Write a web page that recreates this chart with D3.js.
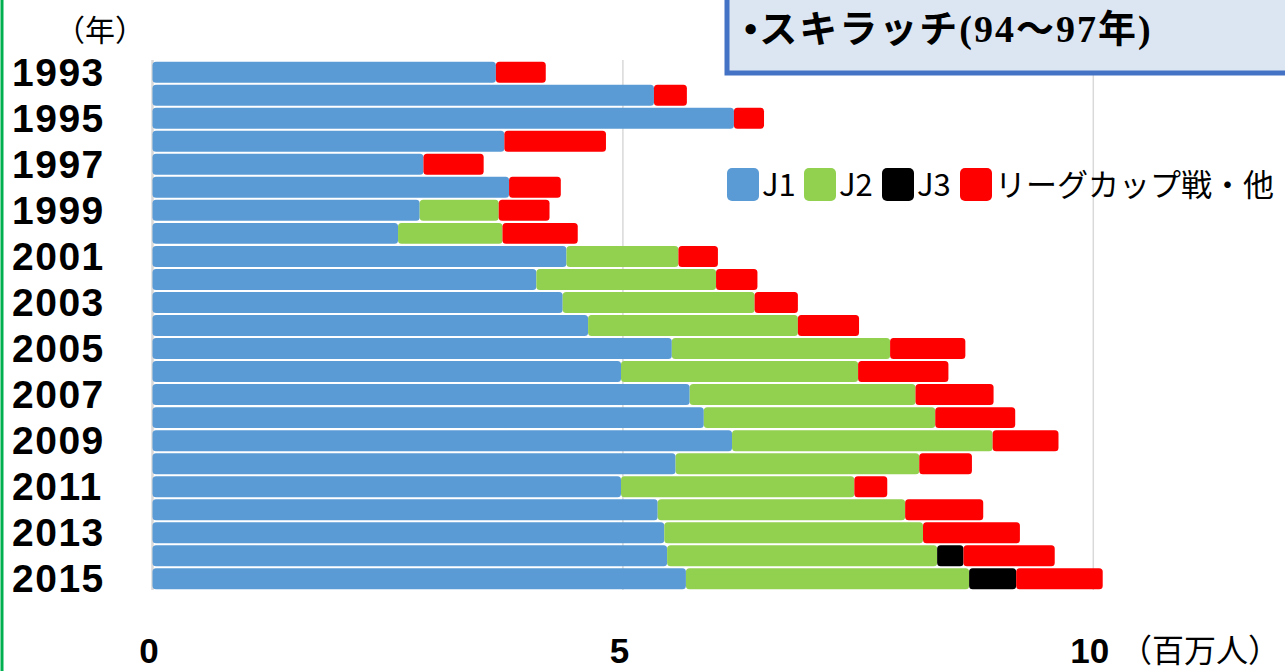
<!DOCTYPE html>
<html>
<head>
<meta charset="utf-8">
<script src="https://cdn.jsdelivr.net/npm/d3@7"></script>
<style>
  html, body { margin: 0; padding: 0; background: #fff; }
  svg { display: block; }
</style>
</head>
<body>
<svg id="chart" width="1285" height="671"></svg>
<script>
// J-League attendance by season (millions)
const years = ["1993","1994","1995","1996","1997","1998","1999","2000","2001","2002","2003","2004",
               "2005","2006","2007","2008","2009","2010","2011","2012","2013","2014","2015"];
const j1  = [3.65,5.33,6.18,3.74,2.88,3.79,2.84,2.61,4.40,4.08,4.36,4.63,
             5.52,4.98,5.71,5.86,6.16,5.56,4.98,5.37,5.44,5.47,5.67];
const j2  = [0,0,0,0,0,0,0.84,1.11,1.19,1.91,2.04,2.23,
             2.32,2.52,2.40,2.46,2.77,2.59,2.48,2.63,2.75,2.87,3.01];
const j3  = [0,0,0,0,0,0,0,0,0,0,0,0,
             0,0,0,0,0,0,0,0,0,0.28,0.50];
const cup = [0.53,0.35,0.32,1.08,0.64,0.55,0.54,0.80,0.42,0.44,0.46,0.65,
             0.80,0.96,0.83,0.85,0.70,0.56,0.35,0.83,1.03,0.97,0.92];

const seriesNames  = ["J1","J2","J3","リーグカップ戦・他"];
const seriesColors = ["#5b9bd5","#92d050","#000000","#ff0000"];
const xTicks = [0,5,10];
const yearLabels = years.filter((d,i) => i % 2 === 0);

const svg = d3.select("#chart");
const rows = years.map((yr,i) => ({year: yr, J1: j1[i], J2: j2[i], J3: j3[i], cup: cup[i]}));
const keys = ["J1","J2","J3","cup"];
const stacked = d3.stack().keys(keys)(rows);

const x = d3.scaleLinear().domain([0,10]).range([152.5,1093.3]);
const y = d3.scaleBand().domain(years).range([61,590]).paddingInner(0.09).paddingOuter(0.03);

// left accent line
svg.append("line").attr("x1",2).attr("x2",2).attr("y1",0).attr("y2",671)
  .attr("stroke","#00b050").attr("stroke-width",3);

// gridlines
svg.append("g").selectAll("line").data(xTicks).join("line")
  .attr("x1",d=>x(d)).attr("x2",d=>x(d)).attr("y1",60).attr("y2",590)
  .attr("stroke","#d9d9d9").attr("stroke-width",d=>d===0?2.5:1.5);

// stacked bars
const layer = svg.append("g").selectAll("g").data(stacked).join("g")
  .attr("fill",(d,i)=>seriesColors[i]);
layer.selectAll("rect").data(d=>d.filter(s=>s[1]-s[0]>0)).join("rect")
  .attr("x",d=>x(d[0]))
  .attr("y",d=>y(d.data.year))
  .attr("width",d=>x(d[1])-x(d[0]))
  .attr("height",y.bandwidth())
  .attr("rx",3.5);

// year labels
const yAxis = svg.append("g")
  .call(d3.axisLeft(y).tickValues(yearLabels).tickSize(0));
yAxis.select(".domain").remove();
yAxis.selectAll("text")
  .attr("x",12).attr("dy",null).attr("dominant-baseline","central")
  .attr("text-anchor","start")
  .style("font-family","'Liberation Sans', Arial, sans-serif")
  .style("font-weight","bold").style("font-size","39px")
  .style("letter-spacing","1.5px").attr("fill","#000");

// x labels
const xAxis = svg.append("g").attr("transform","translate(-4,0)")
  .call(d3.axisBottom(x).tickValues(xTicks).tickSize(0).tickFormat(d3.format("d")));
xAxis.select(".domain").remove();
xAxis.selectAll("text")
  .attr("y",663).attr("dy",null)
  .style("font-family","'Liberation Sans', Arial, sans-serif")
  .style("font-weight","bold").style("font-size","35px").attr("fill","#000");

const cjk = "'Noto Sans CJK JP', 'Noto Sans', sans-serif";
svg.append("text").attr("x",1200).attr("y",662).attr("text-anchor","middle")
  .style("font-family",cjk).style("font-size","32px").text("（百万人）");
svg.append("text").attr("x",100).attr("y",41).attr("text-anchor","middle")
  .style("font-family",cjk).style("font-size","30px").text("（年）");

// legend
const legendX = [727, 804, 882, 960];
const legend = svg.append("g").selectAll("g").data(seriesNames).join("g")
  .attr("transform",(d,i)=>`translate(${legendX[i]},168)`);
legend.append("rect").attr("width",32).attr("height",33).attr("rx",5)
  .attr("fill",(d,i)=>seriesColors[i]);
legend.append("text").attr("x",35).attr("y",28)
  .style("font-family",cjk).style("font-size","31px").attr("fill","#000").text(d=>d);

// annotation box
svg.append("rect").attr("x",727).attr("y",-10).attr("width",600).attr("height",83)
  .attr("fill","#dce6f2").attr("stroke","#4472c4").attr("stroke-width",5);
svg.append("text").attr("x",744).attr("y",42)
  .style("font-family","'Liberation Serif', 'Noto Sans CJK JP', serif")
  .style("font-weight","bold").style("font-size","38px").style("letter-spacing","2px")
  .attr("fill","#000")
  .text("•スキラッチ(94～97年)");
</script>
</body>
</html>
